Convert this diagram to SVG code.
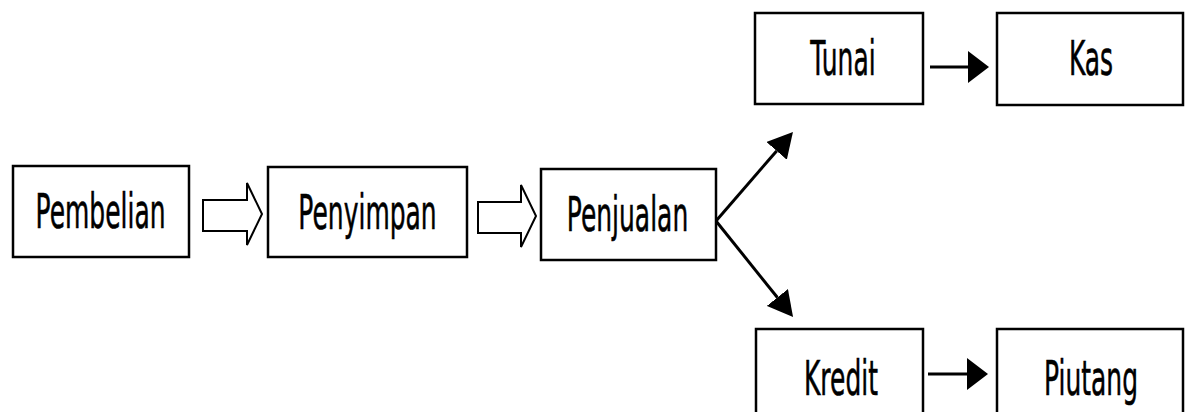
<svg xmlns="http://www.w3.org/2000/svg" width="1187" height="412" viewBox="0 0 1187 412">
<style>
.box{fill:#fff;stroke:#000;stroke-width:2.5}
.lbl{font-family:"DejaVu Sans",Verdana,sans-serif;font-size:48px;fill:#000;stroke:#000;stroke-width:0.6;text-anchor:middle}
.hollow{fill:#fff;stroke:#000;stroke-width:2}
.ln{fill:none;stroke:#000;stroke-width:3}
</style>
<defs>
<marker id="ahH" markerUnits="userSpaceOnUse" markerWidth="21" markerHeight="32" viewBox="0 0 21 32" refX="0" refY="16" orient="auto"><path d="M0,0 L21,16 L0,32 z" fill="#000"/></marker>
<marker id="ahD" markerUnits="userSpaceOnUse" markerWidth="25" markerHeight="27" viewBox="0 0 25 27" refX="0" refY="13.5" orient="auto"><path d="M0,0 L25,13.5 L0,27 z" fill="#000"/></marker>
</defs>
<rect width="1187" height="412" fill="#fff"/>
<g id="connectors">
<polygon class="hollow" points="203,200 247,200 247,183 262,214 247,245 247,231 203,231"/>
<polygon class="hollow" points="478,202 521,202 521,185 536,216 521,247 521,233 478,233"/>
<line class="ln" x1="716" y1="221" x2="776.6" y2="150.9" marker-end="url(#ahD)"/>
<line class="ln" x1="716" y1="221" x2="777.4" y2="297.5" marker-end="url(#ahD)"/>
<line class="ln" x1="930" y1="67" x2="968" y2="67" stroke-width="4" marker-end="url(#ahH)"/>
<line class="ln" x1="928" y1="374" x2="967" y2="374" marker-end="url(#ahH)"/>
</g>
<g id="pembelian"><rect class="box" x="13" y="166" width="176" height="91"/><text class="lbl" transform="translate(100.5,228) scale(0.52,1)">Pembelian</text></g>
<g id="penyimpan"><rect class="box" x="268" y="167" width="199" height="90"/><text class="lbl" transform="translate(367.5,229) scale(0.52,1)">Penyimpan</text></g>
<g id="penjualan"><rect class="box" x="541" y="169" width="175" height="91"/><text class="lbl" transform="translate(627.5,231) scale(0.52,1)">Penjualan</text></g>
<g id="tunai"><rect class="box" x="755" y="13" width="168" height="91"/><text class="lbl" transform="translate(843,75) scale(0.52,1)">Tunai</text></g>
<g id="kas"><rect class="box" x="997" y="13" width="186" height="92"/><text class="lbl" transform="translate(1091,75) scale(0.52,1)">Kas</text></g>
<g id="kredit"><rect class="box" x="756" y="329" width="167" height="100"/><text class="lbl" transform="translate(841,395) scale(0.52,1)">Kredit</text></g>
<g id="piutang"><rect class="box" x="997" y="329" width="186" height="100"/><text class="lbl" transform="translate(1091,395) scale(0.52,1)">Piutang</text></g>
</svg>
